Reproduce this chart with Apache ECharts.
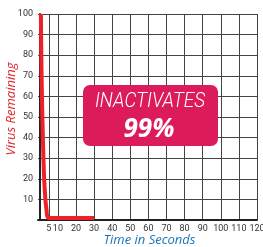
<!DOCTYPE html>
<html lang="en">
<head>
    <meta charset="UTF-8">
    <title>Virus Remaining</title>
    <style>
        html, body { margin: 0; padding: 0; background: #fff; }
        #chart { width: 263px; height: 247px; }
    </style>
</head>
<body>
<div id="chart"></div>
<script src="https://cdn.jsdelivr.net/npm/echarts@6/dist/echarts.min.js"></script>
<script>
    // seconds / percentage of virus remaining
    var seconds = [0.6, 0.9, 1.3, 1.7, 2.3, 3.0, 3.7, 4.7, 30];
    var remaining = [100, 75, 55, 40, 22, 11, 5, 1, 1];
    var xTicks = [5, 10, 20, 30, 40, 50, 60, 70, 80, 90, 100, 110, 120];

    var chart = echarts.init(document.getElementById('chart'));

    var option = {
        animation: false,
        grid: {
            left: 38,
            right: 6,
            top: 14,
            bottom: 27,
            outerBoundsMode: 'none'
        },
        xAxis: {
            type: 'value',
            min: -1,
            max: 120,
            name: 'Time in Seconds',
            nameLocation: 'middle',
            nameGap: 14,
            nameMoveOverlap: false,
            nameTextStyle: {
                color: '#1b75bb',
                fontStyle: 'italic',
                fontSize: 13,
                fontFamily: 'Open Sans',
                padding: [0, 0, 0, 4]
            },
            axisLine: { lineStyle: { color: '#222', width: 2 } },
            axisTick: { show: false, customValues: xTicks },
            axisLabel: {
                customValues: xTicks,
                color: '#333',
                fontSize: 9,
                margin: 4,
                fontFamily: 'Roboto'
            },
            splitLine: { show: true, lineStyle: { color: '#444', width: 1 } }
        },
        yAxis: {
            type: 'value',
            min: 0,
            max: 100,
            interval: 10,
            name: 'Virus Remaining',
            nameLocation: 'middle',
            nameGap: 20,
            nameMoveOverlap: false,
            nameTextStyle: {
                color: '#e0282e',
                fontStyle: 'italic',
                fontSize: 13,
                fontFamily: 'Open Sans',
                padding: [0, 0, 0, 16]
            },
            axisLine: { show: true, lineStyle: { color: '#222', width: 2 } },
            axisTick: { show: false },
            axisLabel: {
                color: '#333',
                fontSize: 9,
                margin: 5,
                fontFamily: 'Roboto',
                formatter: function (v) { return v === 0 ? '' : v; }
            },
            splitLine: { show: true, lineStyle: { color: '#444', width: 1 } }
        },
        graphic: [
            {
                type: 'rect',
                shape: { x: 83, y: 85, width: 135, height: 61, r: 7 },
                style: { fill: '#dc1b5b' },
                z: 100
            },
            {
                type: 'text',
                x: 150,
                y: 102,
                scaleX: 0.9,
                style: {
                    text: 'INACTIVATES',
                    fill: '#fff',
                    fontSize: 21,
                    fontStyle: 'italic',
                    fontWeight: 300,
                    fontFamily: 'Roboto',
                    align: 'center',
                    verticalAlign: 'middle'
                },
                z: 101
            },
            {
                type: 'text',
                x: 149,
                y: 130,
                style: {
                    text: '99%',
                    fill: '#fff',
                    fontSize: 26,
                    fontWeight: 'bold',
                    fontStyle: 'italic',
                    fontFamily: 'Open Sans',
                    align: 'center',
                    verticalAlign: 'middle'
                },
                z: 101
            }
        ],
        series: [
            {
                type: 'line',
                data: seconds.map(function (s, i) { return [s, remaining[i]]; }),
                smooth: 0.3,
                showSymbol: false,
                lineStyle: { color: '#ec2227', width: 4 },
                z: 5
            }
        ]
    };

    chart.setOption(option);
</script>
</body>
</html>
